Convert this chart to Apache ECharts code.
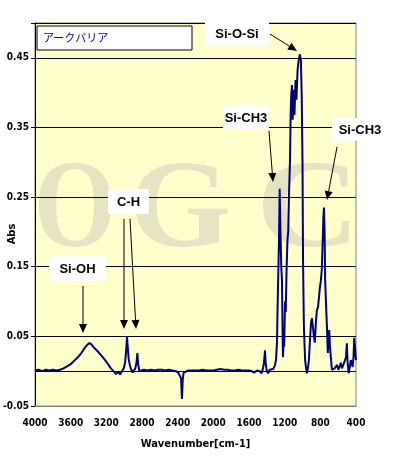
<!DOCTYPE html>
<html>
<head>
<meta charset="utf-8">
<script src="https://cdn.jsdelivr.net/npm/echarts@6/dist/echarts.min.js"></script>
<style>html,body{margin:0;padding:0;background:#fff;}#c{width:396px;height:456px;}</style>
</head>
<body>
<div id="c"></div>
<script>
// Data
const seriesName = 'アークバリア';
const wavenumbers = [4000,3960,3920,3880,3840,3800,3760,3720,3680,3640,3600,3560,3520,3480,3450,3420,3395,3370,3340,3300,3260,3220,3180,3150,3120,3090,3075,3060,3045,3025,3005,2990,2978,2968,2960,2950,2935,2920,2905,2890,2875,2862,2852,2843,2830,2810,2780,2740,2700,2660,2620,2580,2540,2500,2460,2420,2395,2375,2362,2352,2343,2333,2320,2280,2240,2200,2160,2120,2080,2040,2000,1960,1920,1880,1840,1800,1760,1720,1680,1640,1600,1570,1540,1510,1480,1460,1445,1432,1421,1412,1400,1385,1370,1350,1330,1310,1297,1286,1275,1264,1256,1247,1238,1230,1224,1219,1212,1205,1196,1188,1178,1168,1160,1151,1140,1133,1126,1118,1110,1100,1090,1078,1068,1055,1042,1030,1018,1008,1000,994,985,978,970,960,950,940,928,916,904,894,884,872,862,850,838,826,815,804,794,784,775,766,759,752,746,737,726,716,708,700,692,682,670,655,640,625,612,598,585,570,557,540,525,512,503,495,483,470,458,447,438,428,420,412,405,400];
const absorbance = [0.001,0.002,0.000,0.002,0.001,0.002,0.001,0.002,0.004,0.007,0.010,0.015,0.020,0.026,0.032,0.037,0.040,0.039,0.034,0.029,0.023,0.017,0.010,0.004,0.000,-0.004,-0.006,-0.001,-0.005,0.000,0.004,0.012,0.030,0.049,0.035,0.018,0.008,0.002,-0.002,0.000,0.004,0.012,0.026,0.010,0.000,0.001,0.002,0.001,0.002,0.001,0.002,0.002,0.001,0.002,0.001,0.000,-0.002,-0.003,-0.010,-0.040,-0.012,-0.002,0.000,0.001,0.001,0.001,0.001,0.002,0.001,0.001,0.001,0.002,0.003,0.002,0.002,0.001,0.001,0.002,0.001,0.001,0.001,0.000,-0.002,0.001,0.000,-0.003,0.003,0.012,0.030,0.010,0.000,-0.003,0.002,0.000,0.003,0.008,0.016,0.042,0.120,0.184,0.262,0.200,0.150,0.130,0.060,0.020,0.042,0.035,0.100,0.085,0.150,0.190,0.200,0.256,0.303,0.370,0.397,0.411,0.361,0.404,0.368,0.418,0.390,0.433,0.447,0.455,0.447,0.390,0.300,0.160,0.069,0.040,0.015,0.004,-0.003,0.004,0.016,0.045,0.070,0.076,0.075,0.050,0.041,0.070,0.088,0.092,0.090,0.121,0.130,0.145,0.180,0.220,0.235,0.200,0.131,0.100,0.064,0.026,0.048,0.059,0.035,0.020,0.002,0.000,0.004,0.003,0.009,0.002,0.006,0.012,0.004,0.010,0.012,0.020,0.040,0.015,-0.003,0.006,0.016,0.012,0.006,0.020,0.048,0.036,0.022,0.016];
const xTickLabels = {4000:'4000',3600:'3600',3200:'3200',2800:'2800',2400:'2400',2000:'2000',1600:'1600',1200:'1200',800:'800',400:'400'};
const yTickLabels = ['-0.05','0.05','0.15','0.25','0.35','0.45'];
const annotations = [
  {text:'Si-O-Si', box:[205,22,64,23], arrows:[[270,34,297,51]]},
  {text:'Si-CH3', box:[223,105,46,24], arrows:[[269,131,273,182]]},
  {text:'Si-CH3', box:[332,118,56,23], arrows:[[337,147,327,200]]},
  {text:'C-H', box:[108,189,41,25], arrows:[[124,219,124,329],[130,219,136,329]]},
  {text:'Si-OH', box:[49,256,57,25], arrows:[[83,286,83,333]]}
];

const chart = echarts.init(document.getElementById('c'), null, {renderer:'canvas'});
const lab = "'Liberation Sans Narrow','DejaVu Sans Condensed','Liberation Sans',sans-serif";

const graphics = [];
// watermark
[['O',75,0.85],['G',180,1.05],['C',308,1.15]].forEach(([ch,x,s])=>{
  graphics.push({type:'text', z:-5, silent:true, x:x, y:214, scaleX:s,
    style:{text:ch, font:"bold 125px 'Liberation Serif','DejaVu Serif',serif", fill:'#E5E3C1', align:'center', verticalAlign:'middle'}});
});
// legend box
graphics.push({type:'rect', z:10, shape:{x:37,y:26,width:155,height:24}, style:{fill:'#fff', stroke:'#000', lineWidth:1}});
graphics.push({type:'text', z:11, x:43, y:38, style:{text:seriesName, font:"11px 'Noto Sans CJK JP',sans-serif", fill:'#0000A0', verticalAlign:'middle'}});
// axis name Abs
graphics.push({type:'text', z:11, x:12, y:234, rotation:Math.PI/2, style:{text:'Abs', font:"bold 11px "+lab, fill:'#000', align:'center', verticalAlign:'middle'}});

function arrowEls(x1,y1,x2,y2){
  const a=Math.atan2(y2-y1,x2-x1), L=9, W=4;
  const bx=x2-L*Math.cos(a), by=y2-L*Math.sin(a);
  const nx=-Math.sin(a), ny=Math.cos(a);
  return [
    {type:'line', z:12, shape:{x1:x1,y1:y1,x2:bx,y2:by}, style:{stroke:'#000', lineWidth:1}},
    {type:'polygon', z:12, shape:{points:[[x2,y2],[bx+W*nx,by+W*ny],[bx-W*nx,by-W*ny]]}, style:{fill:'#000'}}
  ];
}
annotations.forEach(an=>{
  const [bx,by,bw,bh]=an.box;
  graphics.push({type:'rect', z:10, shape:{x:bx,y:by,width:bw,height:bh}, style:{fill:'#fff'}});
  graphics.push({type:'text', z:11, x:bx+bw/2, y:by+bh/2+1, style:{text:an.text, font:"bold 13px 'Liberation Sans',Arial,sans-serif", fill:'#000', align:'center', verticalAlign:'middle'}});
  an.arrows.forEach(ar=>graphics.push(...arrowEls(...ar)));
});

const data = wavenumbers.map((w,i)=>[w, absorbance[i]]);

chart.setOption({
  animation:false,
  backgroundColor:'#fff',
  grid:{left:35, right:40, top:23, bottom:50, show:true, z:-10, backgroundColor:'#FFFFCC', borderColor:'#808080', borderWidth:1},
  xAxis:{type:'value', inverse:true, min:400, max:4000, interval:400,
    axisLine:{show:true, onZero:false, lineStyle:{color:'#808080'}}, axisTick:{show:false}, splitLine:{show:false},
    axisLabel:{margin:12, color:'#000', fontSize:10, fontWeight:'bold', fontFamily:lab, formatter:v=>xTickLabels[v]||''},
    name:'Wavenumber[cm-1]', nameLocation:'middle', nameGap:33,
    nameTextStyle:{color:'#000', fontSize:11, fontWeight:'bold', fontFamily:lab}},
  yAxis:{type:'value', min:-0.05, max:0.5, interval:0.1,
    axisLine:{show:true, lineStyle:{color:'#000'}}, axisTick:{show:true, length:4, lineStyle:{color:'#000'}},
    splitLine:{show:true, lineStyle:{color:'#000', width:1}},
    axisLabel:{margin:6, color:'#000', fontSize:10, fontWeight:'bold', fontFamily:lab,
      formatter:v=>{const s=v.toFixed(2); return yTickLabels.indexOf(s)>=0?s:'';}}},
  graphic:graphics,
  series:[{name:seriesName, type:'line', data:data, showSymbol:false, z:3,
    lineStyle:{color:'#000080', width:2}, itemStyle:{color:'#000080'},
    markLine:{silent:true, symbol:'none', label:{show:false}, lineStyle:{color:'#000', width:1, type:'solid'}, data:[{yAxis:0}]}}]
});
</script>
</body>
</html>
